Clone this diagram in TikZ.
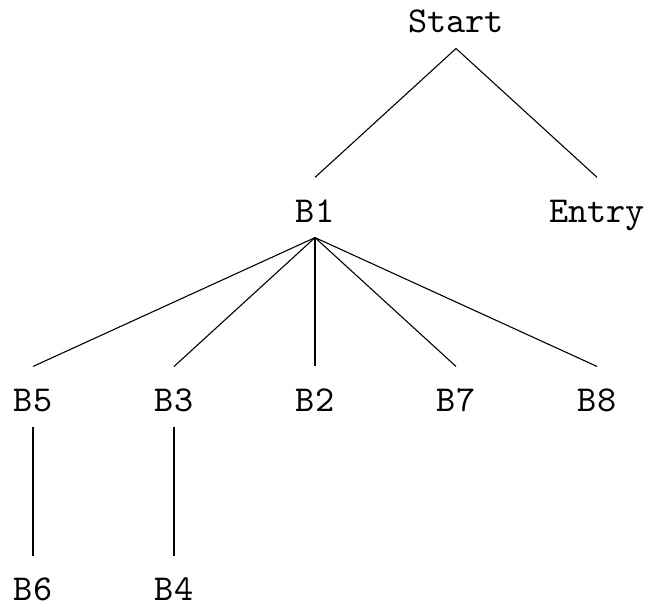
\documentclass[tikz,border=0pt]{standalone}
\usepackage{tikz}
\usetikzlibrary{positioning}

\begin{document}
\begin{tikzpicture}[x=38.63pt,y=51.8pt,line width=0.3pt,
  blk/.style={font=\ttfamily,anchor=base,text height=8pt,text depth=0pt,inner ysep=4.1pt}]
  \useasboundingbox (-9.04pt,9.04pt) rectangle (169.3pt,-157pt);
  \node[blk] (start) at (3,0) {Start};
  \node[blk] (B1) at (2,-1) {B1};
  \node[blk] (entry) at (4,-1) {Entry};
  \draw (start.south) -- (B1.north);
  \draw (start.south) -- (entry.north);
  % successors of B1
  \foreach \name/\col in {B5/0,B3/1,B2/2,B7/3,B8/4} {
    \node[blk] (\name) at (\col,-2) {\name};
    \draw (B1.south) -- (\name.north);
  }
  \node[blk] (B6) at (0,-3) {B6};
  \node[blk] (B4) at (1,-3) {B4};
  \draw (B5.south) -- (B6.north);
  \draw (B3.south) -- (B4.north);
\end{tikzpicture}
\end{document}
